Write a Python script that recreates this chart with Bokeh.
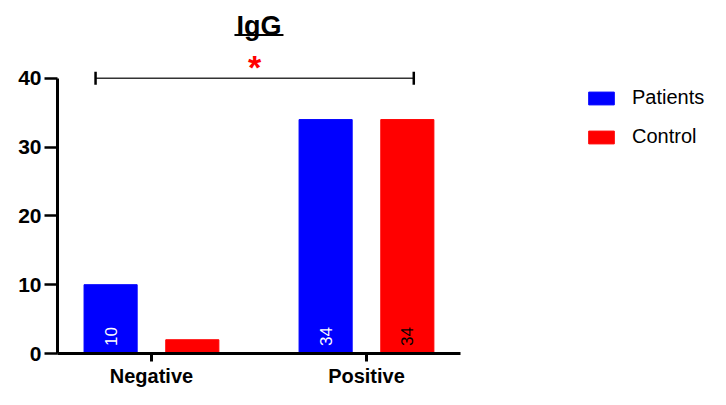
import math
from bokeh.plotting import figure
from bokeh.models import (ColumnDataSource, Range1d, FixedTicker, Legend, LegendItem,
                          Whisker, TeeHead)
from bokeh.core.properties import value
from bokeh.embed import file_html
from bokeh.resources import INLINE

# ---- data ----
categories = ["Negative", "Positive"]
patients = [10, 34]
control = [2, 34]
patients_labels = ["10", "34"]
control_labels = ["", "34"]
y_ticks = [0, 10, 20, 30, 40]
title_text = "IgG"
signif_text = "*"

# ---- layout constants ----
W, H = 710, 389
offset = 0.19
bar_w = 0.247
cat_x = list(range(len(categories)))

p = figure(width=W, height=H, output_backend="svg", toolbar_location=None,
           x_range=Range1d(-0.437, 2.6), y_range=Range1d(0, 49.13),
           min_border_left=57, min_border_right=0, min_border_top=15,
           min_border_bottom=35)
p.outline_line_color = None
p.grid.visible = False
p.background_fill_color = "white"

src_p = ColumnDataSource(dict(x=[c - offset for c in cat_x], top=patients,
                              lab=patients_labels, ly=[1.1] * len(cat_x)))
src_c = ColumnDataSource(dict(x=[c + offset for c in cat_x], top=control,
                              lab=control_labels, ly=[1.1] * len(cat_x)))

r_p = p.vbar(x="x", top="top", width=bar_w, bottom=0, source=src_p,
             fill_color="#0000ff", line_color="#0000ff", line_width=1)
r_c = p.vbar(x="x", top="top", width=bar_w, bottom=0, source=src_c,
             fill_color="#ff0000", line_color="#ff0000", line_width=1)

# value labels inside bars (rotated)
p.text(x="x", y="ly", text="lab", source=src_p, angle=math.pi / 2,
       text_align="left", text_baseline="middle", text_color="white",
       text_font=value("Liberation Sans"), text_font_size="17px")
p.text(x="x", y="ly", text="lab", source=src_c, angle=math.pi / 2,
       text_align="left", text_baseline="middle", text_color="black",
       text_font=value("Liberation Sans"), text_font_size="17px")

# significance bracket
br_src = ColumnDataSource(dict(base=[40], lower=[-0.26], upper=[1.22]))
wh = Whisker(source=br_src, base="base", lower="lower", upper="upper",
             dimension="width", line_color="#333333", line_width=1.5,
             lower_head=TeeHead(size=13, line_width=2.5, line_color="black"),
             upper_head=TeeHead(size=13, line_width=2.5, line_color="black"))
p.add_layout(wh)
mid = (br_src.data["lower"][0] + br_src.data["upper"][0]) / 2
p.text(x=[mid], y=[40], text=[signif_text], text_color="#ff0000",
       text_align="center", text_baseline="middle", y_offset=-11,
       text_font=value("Liberation Sans"), text_font_style="bold",
       text_font_size="34px")

# title (underlined)
tx = (cat_x[0] + cat_x[-1]) / 2
p.text(x=[tx], y=[47.62], text=[title_text], text_align="center",
       text_baseline="middle", text_color="black",
       text_font=value("Liberation Sans"), text_font_style="bold",
       text_font_size="27px")
half = 24.5 / 215
p.segment(x0=[tx - half], x1=[tx + half], y0=[46.3], y1=[46.3],
          line_color="black", line_width=2)

# axes
yax = p.yaxis[0]
yax.bounds = (0, 40)
yax.ticker = FixedTicker(ticks=y_ticks)
yax.minor_tick_line_color = None
yax.major_tick_in = 0
yax.major_tick_out = 13
yax.major_tick_line_width = 2.5
yax.axis_line_width = 3
yax.major_label_standoff = 3
yax.major_label_text_font = "Liberation Sans"
yax.major_label_text_font_style = "bold"
yax.major_label_text_font_size = "21px"
yax.major_label_text_color = "black"

xax = p.xaxis[0]
xax.bounds = (-0.437, 1.437)
xax.ticker = FixedTicker(ticks=cat_x)
xax.major_label_overrides = {c: n for c, n in zip(cat_x, categories)}
xax.minor_tick_line_color = None
xax.major_tick_in = 0
xax.major_tick_out = 8
xax.major_tick_line_width = 3
xax.axis_line_width = 3
xax.major_label_standoff = 3
xax.major_label_text_font = "Liberation Sans"
xax.major_label_text_font_style = "bold"
xax.major_label_text_font_size = "20px"
xax.major_label_text_color = "black"

legend = Legend(items=[LegendItem(label="Patients", renderers=[r_p]),
                       LegendItem(label="Control", renderers=[r_c])],
                location=(528, 205), orientation="vertical",
                glyph_width=32, glyph_height=16, label_standoff=15,
                spacing=16, padding=0, margin=0,
                border_line_color=None, background_fill_alpha=0,
                label_text_font="Liberation Sans", label_text_font_size="20px",
                label_text_color="black")
p.add_layout(legend)

open("out.html", "w").write(file_html(p, INLINE))
